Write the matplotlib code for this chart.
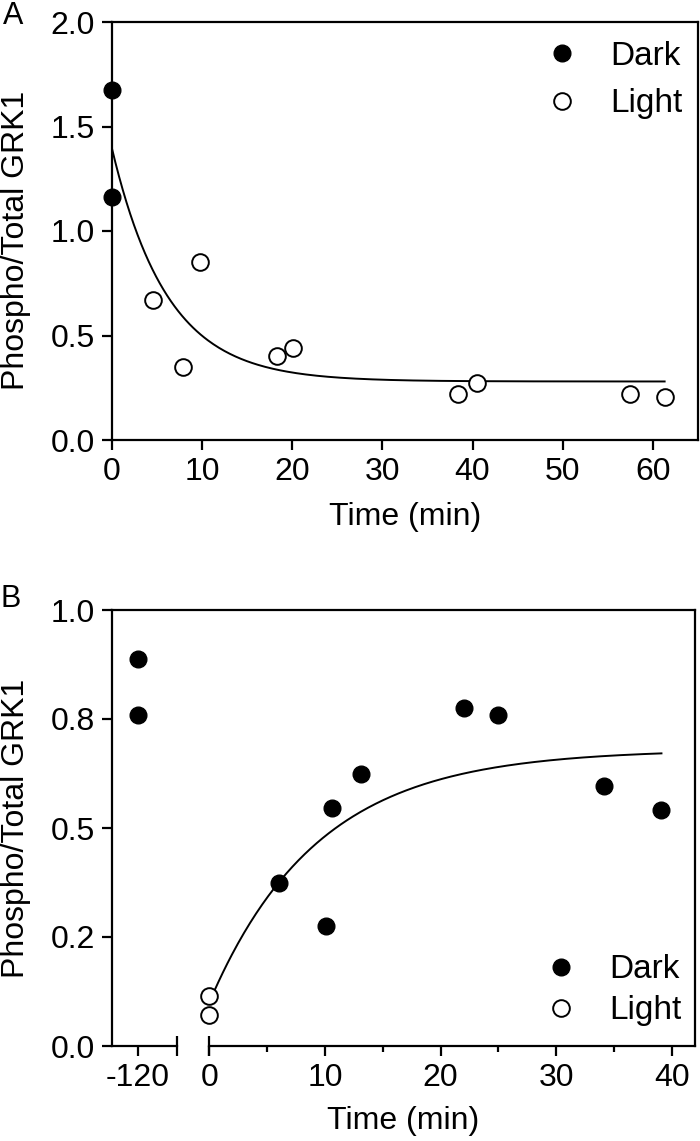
import numpy as np
import matplotlib
matplotlib.use("Agg")
import matplotlib.pyplot as plt
from matplotlib.ticker import FormatStrFormatter, MultipleLocator

plt.rcParams['font.family'] = ['Liberation Sans', 'DejaVu Sans']
plt.rcParams['axes.unicode_minus'] = False

# panel A data
a_dark_t = [0.0, 0.0]
a_dark_y = [1.675, 1.163]
a_light_t = [4.6, 7.9, 9.8, 18.3, 20.1, 38.4, 40.5, 57.5, 61.3]
a_light_y = [0.67, 0.348, 0.85, 0.40, 0.44, 0.219, 0.271, 0.219, 0.207]
# one-phase decay fit shown in A: plateau, span start, rate
a_fit = dict(y0=1.40, plateau=0.28, k=0.163, t_end=61.3)

# panel B data
b_pre_t = [-120, -120]
b_pre_y = [0.887, 0.759]
b_dark_t = [6.05, 10.1, 10.6, 13.1, 22.0, 25.0, 34.1, 39.1]
b_dark_y = [0.375, 0.276, 0.547, 0.625, 0.775, 0.759, 0.596, 0.541]
b_light_t = [0.0, 0.0]
b_light_y = [0.115, 0.071]
# one-phase association fit shown in B
b_fit = dict(y0=0.10, plateau=0.68, k=0.107, t_end=39.1)

W, H = 700, 1141
fig = plt.figure(figsize=(W / 100, H / 100), dpi=100)

def rect(x0, x1, y0, y1):
    # pixel box -> figure fraction
    return [x0 / W, 1 - y1 / H, (x1 - x0) / W, (y1 - y0) / H]

FS = 23
LFS = 24
LW = 1.6
mk = dict(markersize=12, linestyle='none')
dark_kw = dict(marker='o', color='black', **mk)
light_kw = dict(marker='o', markerfacecolor='white', markeredgecolor='black',
                markeredgewidth=1.4, **mk)

def style(ax):
    for s in ax.spines.values():
        s.set_linewidth(LW)
    ax.tick_params(direction='out', length=7, width=LW, labelsize=FS, pad=5)
    ax.tick_params(which='minor', direction='out', length=4, width=LW)

# ---------------- panel A ----------------
axA = fig.add_axes(rect(111.7, 698, 22, 440))
style(axA)
t = np.linspace(0, a_fit['t_end'], 300)
axA.plot(t, a_fit['plateau'] + (a_fit['y0'] - a_fit['plateau']) * np.exp(-a_fit['k'] * t),
         color='black', lw=1.4, zorder=2)
axA.plot(a_dark_t, a_dark_y, label='Dark', clip_on=False, zorder=3, **dark_kw)
axA.plot(a_light_t, a_light_y, label='Light', clip_on=False, zorder=3, **light_kw)
axA.set_xlim(0, 65)
axA.set_ylim(0, 2.0)
axA.set_xticks(np.arange(0, 61, 10))
axA.set_yticks([0, 0.5, 1.0, 1.5, 2.0])
axA.yaxis.set_major_formatter(FormatStrFormatter('%.1f'))
axA.tick_params(top=False, right=False)
axA.legend(loc='upper right', bbox_to_anchor=(0.974, 0.955), frameon=False,
           fontsize=LFS, handlelength=1, handletextpad=0.95, labelspacing=0.5,
           borderpad=0, borderaxespad=0)

fig.text(16 / W, 1 - 240 / H, 'Phospho/Total GRK1', rotation=90, ha='center',
         va='center', fontsize=FS)
fig.text(405 / W, 1 - 517 / H, 'Time (min)', ha='center', va='center', fontsize=FS)
fig.text(13 / W, 1 - 16 / H, 'A', ha='center', va='center', fontsize=22)

# ---------------- panel B (broken x axis) ----------------
axBg = fig.add_axes(rect(112, 695, 610, 1046))
axBg.set_xticks([])
axBg.set_yticks([])
for side in ['left', 'right', 'bottom']:
    axBg.spines[side].set_visible(False)
axBg.spines['top'].set_linewidth(LW)
axBg.patch.set_alpha(0)

axL = fig.add_axes(rect(112, 177, 610, 1046))
axR = fig.add_axes(rect(209.3, 695, 610, 1046))
for ax in (axL, axR):
    style(ax)
    ax.patch.set_alpha(0)
    ax.set_ylim(0, 1.0)
    ax.spines['top'].set_visible(False)

axL.spines['right'].set_visible(False)
axL.set_xlim(-125, -112.5)
axL.set_xticks([-120])
axL.set_yticks([0, 0.25, 0.5, 0.75, 1.0])
axL.yaxis.set_major_formatter(FormatStrFormatter('%.1f'))
axL.plot(b_pre_t, b_pre_y, clip_on=False, zorder=3, **dark_kw)

axR.spines['left'].set_visible(False)
axR.tick_params(left=False, labelleft=False)
axR.set_xlim(0, 42)
axR.set_xticks(np.arange(0, 41, 10))
axR.xaxis.set_minor_locator(MultipleLocator(5))
t = np.linspace(0, b_fit['t_end'], 300)
axR.plot(t, b_fit['plateau'] - (b_fit['plateau'] - b_fit['y0']) * np.exp(-b_fit['k'] * t),
         color='black', lw=1.4, zorder=2)
axR.plot(b_dark_t, b_dark_y, label='Dark', clip_on=False, zorder=3, **dark_kw)
axR.plot(b_light_t, b_light_y, label='Light', clip_on=False, zorder=3, **light_kw)
axR.legend(loc='lower right', bbox_to_anchor=(0.973, 0.045), frameon=False,
           fontsize=LFS, handlelength=1, handletextpad=0.95, labelspacing=0.3,
           borderpad=0, borderaxespad=0)

# break marks at the ends of the two axis segments
brk = dict(marker='|', markersize=14, markeredgewidth=LW, color='black', clip_on=False)
axL.plot([1], [0], transform=axL.transAxes, **brk)
axR.plot([0], [0], transform=axR.transAxes, **brk)

fig.text(16 / W, 1 - 828 / H, 'Phospho/Total GRK1', rotation=90, ha='center',
         va='center', fontsize=FS)
fig.text(403 / W, 1 - 1121 / H, 'Time (min)', ha='center', va='center', fontsize=FS)
fig.text(11 / W, 1 - 599 / H, 'B', ha='center', va='center', fontsize=22)

fig.savefig('out.png', dpi=100)
